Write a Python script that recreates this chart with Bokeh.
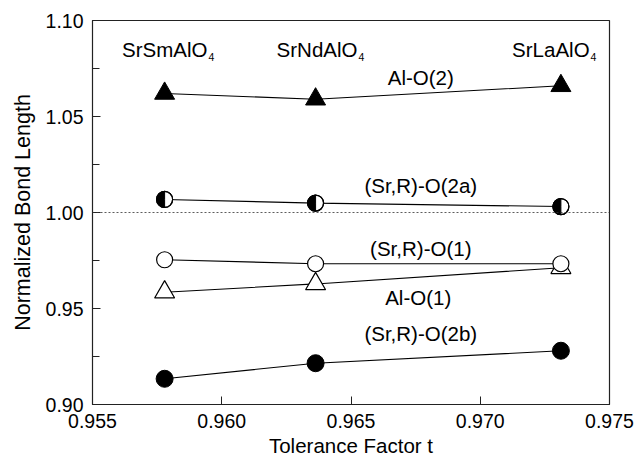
from bokeh.plotting import figure
from bokeh.models import FixedTicker, NumeralTickFormatter, Span
from bokeh.core.properties import value
from bokeh.embed import file_html
from bokeh.resources import INLINE

# ---- data ----
compounds = ["SrSmAlO", "SrNdAlO", "SrLaAlO"]
compound_sub = ["4", "4", "4"]
tolerance = [0.95779, 0.96363, 0.97312]
al_o2 = [1.062, 1.059, 1.066]
sr_o2a = [1.0068, 1.0049, 1.0031]
sr_o1 = [0.9754, 0.9733, 0.9733]
al_o1 = [0.9585, 0.9628, 0.9712]
sr_o2b = [0.9134, 0.9215, 0.9280]
series_names = ["Al-O(2)", "(Sr,R)-O(2a)", "(Sr,R)-O(1)", "Al-O(1)", "(Sr,R)-O(2b)"]
x_ticks = [0.955, 0.960, 0.965, 0.970, 0.975]
y_ticks = [0.90, 0.95, 1.00, 1.05, 1.10]
y_minor = [0.925, 0.975, 1.025, 1.075]

# annotation anchors
name_x = [0.9677, 0.9677, 0.9677, 0.9676, 0.9677]
name_y = [1.0703, 1.0140, 0.9813, 0.9557, 0.9370]
comp_x = [0.95945, 0.96525, 0.97423]
comp_y = 1.0849

FONT = "Liberation Sans"
FS = "20.5px"

p = figure(width=636, height=460, x_range=(0.955, 0.975), y_range=(0.90, 1.10),
           output_backend="svg", toolbar_location=None,
           min_border_left=92, min_border_right=27, min_border_top=20, min_border_bottom=56)
p.grid.visible = False
p.background_fill_color = "white"
p.border_fill_color = "white"
p.outline_line_color = "#222222"
p.outline_line_width = 1.2

p.xaxis.ticker = FixedTicker(ticks=x_ticks, minor_ticks=[])
p.yaxis.ticker = FixedTicker(ticks=y_ticks, minor_ticks=y_minor)
p.xaxis.formatter = NumeralTickFormatter(format="0.000")
p.yaxis.formatter = NumeralTickFormatter(format="0.00")
for ax in (p.xaxis, p.yaxis):
    ax.major_tick_in = 8
    ax.major_tick_out = 0
    ax.minor_tick_in = 7
    ax.minor_tick_out = 0
    ax.axis_line_color = "#222222"
    ax.major_tick_line_color = "#222222"
    ax.minor_tick_line_color = "#222222"
    ax.major_label_text_font = FONT
    ax.major_label_text_font_size = "19.5px"
    ax.major_label_text_color = "black"
    ax.axis_label_text_font = FONT
    ax.axis_label_text_font_style = "normal"
    ax.axis_label_text_color = "black"
p.xaxis.axis_label_text_font_size = "20.5px"
p.yaxis.axis_label_text_font_size = "21.5px"
p.xaxis.axis_label = "Tolerance Factor t"
p.yaxis.axis_label = "Normalized Bond Length"
p.xaxis.major_label_standoff = 9
p.yaxis.major_label_standoff = 9
p.xaxis.axis_label_standoff = 3
p.yaxis.axis_label_standoff = 8

p.add_layout(Span(location=1.0, dimension="width", line_color="#333333",
                  line_width=0.8, line_dash="2 2"))

lw = 1.1
# Al-O(2): filled triangles
p.line(tolerance, al_o2, line_color="black", line_width=lw)
p.scatter(tolerance, al_o2, marker="triangle", size=20, fill_color="black", line_color="black")
# Al-O(1): open triangles
p.line(tolerance, al_o1, line_color="black", line_width=lw)
p.scatter(tolerance, al_o1, marker="triangle", size=20, fill_color="white", line_color="black", line_width=1.2)
# (Sr,R)-O(1): open circles
p.line(tolerance, sr_o1, line_color="black", line_width=lw)
p.scatter(tolerance, sr_o1, marker="circle", size=16, fill_color="white", line_color="black", line_width=1.2)
# (Sr,R)-O(2a): half filled circles
p.line(tolerance, sr_o2a, line_color="black", line_width=lw)
p.scatter(tolerance, sr_o2a, marker="circle", size=16, fill_color="white", line_color="black", line_width=1.2)
p.wedge(tolerance, sr_o2a, radius=8, radius_units="screen", start_angle=90, end_angle=270,
        start_angle_units="deg", end_angle_units="deg", fill_color="black", line_color="black")
p.scatter(tolerance, sr_o2a, marker="circle", size=16, fill_color=None, line_color="black", line_width=1.2)
# (Sr,R)-O(2b): filled circles
p.line(tolerance, sr_o2b, line_color="black", line_width=lw)
p.scatter(tolerance, sr_o2b, marker="circle", size=17, fill_color="black", line_color="black")

# series labels
p.text(x=name_x, y=name_y, text=series_names, text_font=value(FONT), text_font_size=FS,
       text_align="center", text_baseline="middle", text_color="black")
# compound labels with subscripts
p.text(x=comp_x, y=[comp_y] * 3, text=compounds, text_font=value(FONT), text_font_size=FS,
       text_align="right", text_baseline="alphabetic", text_color="black")
p.text(x=comp_x, y=[comp_y] * 3, text=compound_sub, text_font=value(FONT), text_font_size="10.5px",
       text_align="left", text_baseline="alphabetic", text_color="black", x_offset=1, y_offset=8)

open("out.html", "w").write(file_html(p, INLINE))
